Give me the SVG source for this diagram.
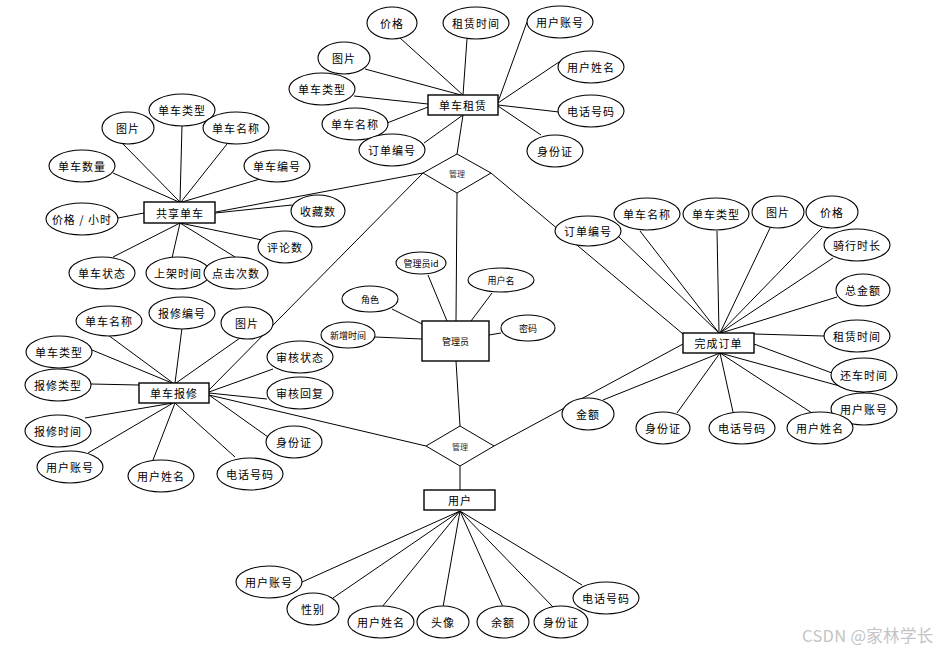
<svg xmlns="http://www.w3.org/2000/svg" width="942" height="650" viewBox="0 0 942 650">
<style>
.bg{fill:#fff}
.e{fill:#fff;stroke:#000;stroke-width:1.1}
.r{fill:#fff;stroke:#000;stroke-width:1.4}
.d{fill:#fff;stroke:#000;stroke-width:1}
.c line{stroke:#000;stroke-width:1}
text{font-family:"Noto Sans CJK SC","Liberation Sans",sans-serif;font-size:11px;fill:#000;text-anchor:middle;dominant-baseline:central;letter-spacing:1px}
.s{font-size:9px;letter-spacing:0}
.t{font-size:8px;letter-spacing:0;fill:#333}
.w{font-size:16.5px;fill:#c4c4c4;letter-spacing:0.3px;text-anchor:start}
</style>
<rect class="bg" x="0" y="0" width="942" height="650"/>
<g id="connectors" class="c">
<!-- 单车租赁 -->
<line x1="400" y1="38" x2="463" y2="95"/>
<line x1="467" y1="39" x2="463" y2="95"/>
<line x1="365" y1="69" x2="461" y2="95"/>
<line x1="354" y1="96" x2="428" y2="104"/>
<line x1="387" y1="123" x2="428" y2="107"/>
<line x1="424" y1="143" x2="463" y2="115"/>
<line x1="527" y1="22" x2="498" y2="102"/>
<line x1="559" y1="62" x2="498" y2="103"/>
<line x1="559" y1="112" x2="498" y2="105"/>
<line x1="541" y1="135" x2="498" y2="106"/>
<line x1="463" y1="115" x2="457" y2="154"/>
<!-- top diamond -->
<line x1="423" y1="173" x2="216" y2="212"/>
<line x1="423" y1="173" x2="209" y2="390"/>
<line x1="491" y1="173" x2="683" y2="334"/>
<line x1="457" y1="193" x2="456" y2="321"/>
<!-- 共享单车 -->
<line x1="182" y1="125" x2="180" y2="202"/>
<line x1="122" y1="143" x2="180" y2="202"/>
<line x1="227" y1="144" x2="181" y2="202"/>
<line x1="113" y1="173" x2="179" y2="202"/>
<line x1="260" y1="179" x2="182" y2="202"/>
<line x1="118" y1="218" x2="144" y2="213"/>
<line x1="215" y1="213" x2="292" y2="205"/>
<line x1="180" y1="223" x2="262" y2="240"/>
<line x1="113" y1="257" x2="180" y2="223"/>
<line x1="172" y1="258" x2="180" y2="223"/>
<line x1="235" y1="257" x2="180" y2="223"/>
<!-- 单车报修 -->
<line x1="108" y1="335" x2="173" y2="383"/>
<line x1="182" y1="328" x2="175" y2="383"/>
<line x1="240" y1="338" x2="176" y2="383"/>
<line x1="92" y1="350" x2="172" y2="383"/>
<line x1="91" y1="384" x2="139" y2="385"/>
<line x1="273" y1="369" x2="209" y2="392"/>
<line x1="267" y1="399" x2="209" y2="393"/>
<line x1="209" y1="395" x2="426" y2="446"/>
<line x1="85" y1="418" x2="173" y2="403"/>
<line x1="88" y1="453" x2="173" y2="403"/>
<line x1="153" y1="460" x2="175" y2="403"/>
<line x1="235" y1="457" x2="175" y2="403"/>
<line x1="268" y1="437" x2="209" y2="395"/>
<!-- 管理员 -->
<line x1="428" y1="275" x2="447" y2="321"/>
<line x1="492" y1="293" x2="471" y2="321"/>
<line x1="392" y1="309" x2="422" y2="324"/>
<line x1="501" y1="333" x2="489" y2="335"/>
<line x1="375" y1="337" x2="422" y2="339"/>
<line x1="456" y1="361" x2="460" y2="426"/>
<!-- 完成订单 -->
<line x1="640" y1="231" x2="719" y2="333"/>
<line x1="717" y1="231" x2="719" y2="333"/>
<line x1="770" y1="228" x2="720" y2="333"/>
<line x1="822" y1="228" x2="720" y2="333"/>
<line x1="833" y1="258" x2="720" y2="333"/>
<line x1="837" y1="297" x2="721" y2="333"/>
<line x1="619" y1="237" x2="719" y2="333"/>
<line x1="824" y1="336" x2="754" y2="334"/>
<line x1="832" y1="373" x2="754" y2="344"/>
<line x1="865" y1="393" x2="720" y2="353"/>
<line x1="812" y1="413" x2="720" y2="353"/>
<line x1="733" y1="412" x2="720" y2="353"/>
<line x1="677" y1="413" x2="720" y2="353"/>
<line x1="603" y1="400" x2="720" y2="353"/>
<line x1="494" y1="446" x2="683" y2="344"/>
<!-- 用户 -->
<line x1="460" y1="466" x2="460" y2="490"/>
<line x1="302" y1="582" x2="460" y2="511"/>
<line x1="333" y1="598" x2="460" y2="511"/>
<line x1="382" y1="607" x2="460" y2="511"/>
<line x1="443" y1="607" x2="460" y2="511"/>
<line x1="503" y1="607" x2="460" y2="511"/>
<line x1="553" y1="607" x2="460" y2="511"/>
<line x1="582" y1="585" x2="460" y2="511"/>
</g>
<!-- relationships -->
<g id="rel-top"><polygon class="d" points="457,154 491,173 457,193 423,173"/><text class="t" x="457" y="173">管理</text></g>
<g id="rel-bottom"><polygon class="d" points="460,426 494,446 460,466 426,446"/><text class="t" x="460" y="446">管理</text></g>
<!-- entities -->
<g id="e-rent"><rect class="r" x="428" y="95" width="70" height="20"/><text x="463" y="105">单车租赁</text></g>
<g id="e-bike"><rect class="r" x="144" y="202" width="71" height="21"/><text x="180" y="212.5">共享单车</text></g>
<g id="e-repair"><rect class="r" x="139" y="383" width="70" height="20"/><text x="174" y="393">单车报修</text></g>
<g id="e-admin"><rect class="r" x="422" y="321" width="67" height="40"/><text class="s" x="455.5" y="341">管理员</text></g>
<g id="e-order"><rect class="r" x="683" y="333" width="71" height="20"/><text x="718.5" y="343">完成订单</text></g>
<g id="e-user"><rect class="r" x="424" y="490" width="71" height="20"/><text x="460" y="500">用户</text></g>
<!-- 单车租赁 attrs -->
<g id="a-r1"><ellipse class="e" cx="392" cy="23" rx="25" ry="16"/><text x="392" y="23">价格</text></g>
<g id="a-r2"><ellipse class="e" cx="476" cy="23" rx="33" ry="16"/><text x="476" y="23">租赁时间</text></g>
<g id="a-r3"><ellipse class="e" cx="560" cy="22" rx="33" ry="16"/><text x="560" y="22">用户账号</text></g>
<g id="a-r4"><ellipse class="e" cx="344" cy="58" rx="26" ry="16"/><text x="344" y="58">图片</text></g>
<g id="a-r5"><ellipse class="e" cx="591" cy="67" rx="33" ry="16"/><text x="591" y="67">用户姓名</text></g>
<g id="a-r6"><ellipse class="e" cx="322" cy="89" rx="33" ry="16"/><text x="322" y="89">单车类型</text></g>
<g id="a-r7"><ellipse class="e" cx="591" cy="111" rx="33" ry="16"/><text x="591" y="111">电话号码</text></g>
<g id="a-r8"><ellipse class="e" cx="355" cy="124" rx="33" ry="16"/><text x="355" y="124">单车名称</text></g>
<g id="a-r9"><ellipse class="e" cx="392" cy="150" rx="33" ry="16"/><text x="392" y="150">订单编号</text></g>
<g id="a-r10"><ellipse class="e" cx="555" cy="151" rx="28" ry="16"/><text x="555" y="151">身份证</text></g>
<!-- 共享单车 attrs -->
<g id="a-b1"><ellipse class="e" cx="182" cy="110" rx="33" ry="16"/><text x="182" y="110">单车类型</text></g>
<g id="a-b2"><ellipse class="e" cx="128" cy="128" rx="26" ry="16"/><text x="128" y="128">图片</text></g>
<g id="a-b3"><ellipse class="e" cx="236" cy="128" rx="33" ry="16"/><text x="236" y="128">单车名称</text></g>
<g id="a-b4"><ellipse class="e" cx="82" cy="166" rx="33" ry="16"/><text x="82" y="166">单车数量</text></g>
<g id="a-b5"><ellipse class="e" cx="277" cy="166" rx="33" ry="16"/><text x="277" y="166">单车编号</text></g>
<g id="a-b6"><ellipse class="e" cx="82" cy="219" rx="36" ry="16"/><text x="82" y="219">价格 / 小时</text></g>
<g id="a-b7"><ellipse class="e" cx="318" cy="211" rx="27" ry="16"/><text x="318" y="211">收藏数</text></g>
<g id="a-b8"><ellipse class="e" cx="285" cy="247" rx="27" ry="16"/><text x="285" y="247">评论数</text></g>
<g id="a-b9"><ellipse class="e" cx="102" cy="273" rx="33" ry="16"/><text x="102" y="273">单车状态</text></g>
<g id="a-b10"><ellipse class="e" cx="178" cy="273" rx="32" ry="16"/><text x="178" y="273">上架时间</text></g>
<g id="a-b11"><ellipse class="e" cx="236" cy="273" rx="32" ry="16"/><text x="236" y="273">点击次数</text></g>
<!-- 单车报修 attrs -->
<g id="a-p1"><ellipse class="e" cx="109" cy="321" rx="33" ry="15"/><text x="109" y="321">单车名称</text></g>
<g id="a-p2"><ellipse class="e" cx="182" cy="313" rx="33" ry="16"/><text x="182" y="313">报修编号</text></g>
<g id="a-p3"><ellipse class="e" cx="247" cy="323" rx="26" ry="16"/><text x="247" y="323">图片</text></g>
<g id="a-p4"><ellipse class="e" cx="59" cy="352" rx="33" ry="16"/><text x="59" y="352">单车类型</text></g>
<g id="a-p5"><ellipse class="e" cx="58" cy="385" rx="33" ry="16"/><text x="58" y="385">报修类型</text></g>
<g id="a-p6"><ellipse class="e" cx="300" cy="357" rx="33" ry="16"/><text x="300" y="357">审核状态</text></g>
<g id="a-p7"><ellipse class="e" cx="300" cy="393" rx="33" ry="16"/><text x="300" y="393">审核回复</text></g>
<g id="a-p8"><ellipse class="e" cx="58" cy="431" rx="33" ry="16"/><text x="58" y="431">报修时间</text></g>
<g id="a-p9"><ellipse class="e" cx="294" cy="442" rx="28" ry="16"/><text x="294" y="442">身份证</text></g>
<g id="a-p10"><ellipse class="e" cx="70" cy="467" rx="33" ry="16"/><text x="70" y="467">用户账号</text></g>
<g id="a-p11"><ellipse class="e" cx="161" cy="476" rx="33" ry="16"/><text x="161" y="476">用户姓名</text></g>
<g id="a-p12"><ellipse class="e" cx="250" cy="474" rx="33" ry="16"/><text x="250" y="474">电话号码</text></g>
<!-- 管理员 attrs -->
<g id="a-m1"><ellipse class="e" cx="421" cy="263" rx="25" ry="11"/><text class="s" x="421" y="263">管理员id</text></g>
<g id="a-m2"><ellipse class="e" cx="501" cy="280" rx="33" ry="12"/><text class="s" x="501" y="280">用户名</text></g>
<g id="a-m3"><ellipse class="e" cx="370" cy="299" rx="28" ry="13"/><text class="s" x="370" y="299">角色</text></g>
<g id="a-m4"><ellipse class="e" cx="528" cy="328" rx="27" ry="13"/><text class="s" x="528" y="328">密码</text></g>
<g id="a-m5"><ellipse class="e" cx="348" cy="335" rx="27" ry="13"/><text class="s" x="348" y="335">新增时间</text></g>
<!-- 完成订单 attrs -->
<g id="a-o1"><ellipse class="e" cx="588" cy="231" rx="33" ry="15"/><text x="588" y="231">订单编号</text></g>
<g id="a-o2"><ellipse class="e" cx="647" cy="214" rx="33" ry="16"/><text x="647" y="214">单车名称</text></g>
<g id="a-o3"><ellipse class="e" cx="716" cy="214" rx="33" ry="16"/><text x="716" y="214">单车类型</text></g>
<g id="a-o4"><ellipse class="e" cx="778" cy="212" rx="26" ry="16"/><text x="778" y="212">图片</text></g>
<g id="a-o5"><ellipse class="e" cx="832" cy="212" rx="26" ry="16"/><text x="832" y="212">价格</text></g>
<g id="a-o6"><ellipse class="e" cx="857" cy="245" rx="33" ry="16"/><text x="857" y="245">骑行时长</text></g>
<g id="a-o7"><ellipse class="e" cx="863" cy="290" rx="27" ry="16"/><text x="863" y="290">总金额</text></g>
<g id="a-o8"><ellipse class="e" cx="857" cy="336" rx="33" ry="16"/><text x="857" y="336">租赁时间</text></g>
<g id="a-o9"><ellipse class="e" cx="864" cy="375" rx="33" ry="17"/><text x="864" y="375">还车时间</text></g>
<g id="a-o10"><ellipse class="e" cx="864" cy="409" rx="33" ry="16"/><text x="864" y="409">用户账号</text></g>
<g id="a-o11"><ellipse class="e" cx="820" cy="428" rx="33" ry="16"/><text x="820" y="428">用户姓名</text></g>
<g id="a-o12"><ellipse class="e" cx="742" cy="428" rx="33" ry="16"/><text x="742" y="428">电话号码</text></g>
<g id="a-o13"><ellipse class="e" cx="663" cy="428" rx="27" ry="16"/><text x="663" y="428">身份证</text></g>
<g id="a-o14"><ellipse class="e" cx="588" cy="414" rx="26" ry="16"/><text x="588" y="414">金额</text></g>
<!-- 用户 attrs -->
<g id="a-u1"><ellipse class="e" cx="269" cy="582" rx="33" ry="16"/><text x="269" y="582">用户账号</text></g>
<g id="a-u2"><ellipse class="e" cx="313" cy="609" rx="26" ry="16"/><text x="313" y="609">性别</text></g>
<g id="a-u3"><ellipse class="e" cx="381" cy="622" rx="33" ry="16"/><text x="381" y="622">用户姓名</text></g>
<g id="a-u4"><ellipse class="e" cx="443" cy="622" rx="26" ry="16"/><text x="443" y="622">头像</text></g>
<g id="a-u5"><ellipse class="e" cx="503" cy="622" rx="26" ry="16"/><text x="503" y="622">余额</text></g>
<g id="a-u6"><ellipse class="e" cx="561" cy="622" rx="27" ry="16"/><text x="561" y="622">身份证</text></g>
<g id="a-u7"><ellipse class="e" cx="606" cy="598" rx="33" ry="16"/><text x="606" y="598">电话号码</text></g>
<text class="w" x="802" y="635">CSDN @家林学长</text>
</svg>
